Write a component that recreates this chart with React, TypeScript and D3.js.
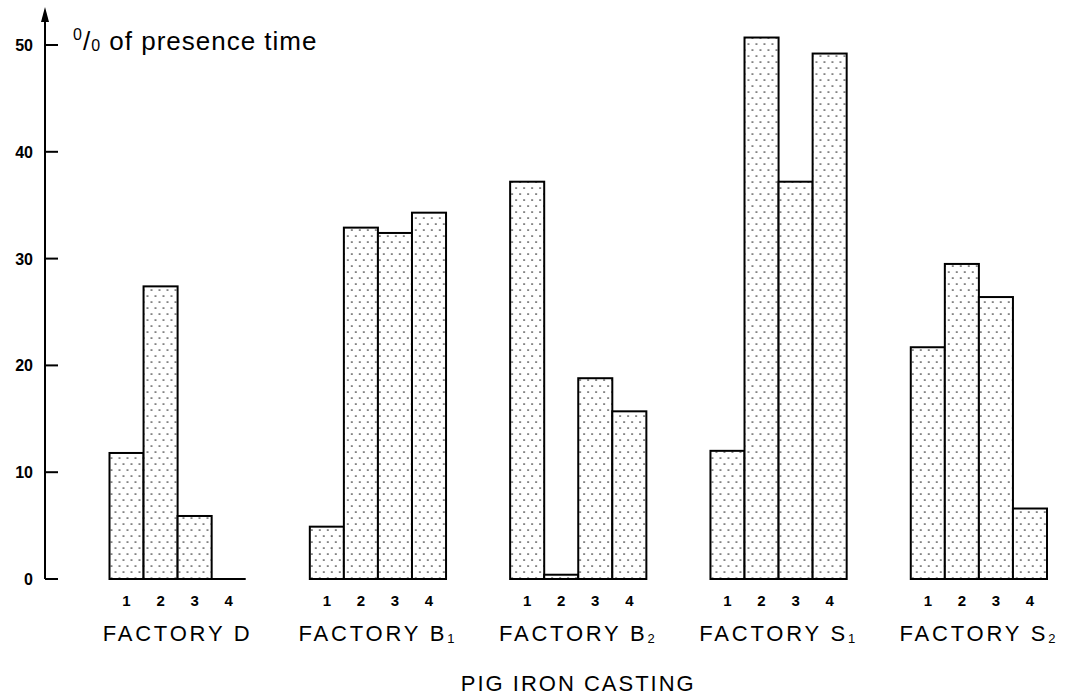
import React from "react";
import * as d3 from "d3";

// values, % of presence time
const factoryNames = ["D", "B", "B", "S", "S"];
const factorySubs = ["", "1", "2", "1", "2"];
const barIds = ["1", "2", "3", "4"];
const factoryD = [11.8, 27.4, 5.9, 0];
const factoryB1 = [4.9, 32.9, 32.4, 34.3];
const factoryB2 = [37.2, 0.4, 18.8, 15.7];
const factoryS1 = [12.0, 50.7, 37.2, 49.2];
const factoryS2 = [21.7, 29.5, 26.4, 6.6];
const yTicks = [0, 10, 20, 30, 40, 50];

const series = [factoryD, factoryB1, factoryB2, factoryS1, factoryS2];
const groupKeys = factoryNames.map((n, i) => n + factorySubs[i]);

const W = 1082;
const H = 699;
const axisX = 45;
const font = "'Liberation Sans', Arial, sans-serif";

const App = () => {
  const y = d3.scaleLinear().domain([0, 50]).range([579, 45]);
  const x0 = d3
    .scaleBand()
    .domain(groupKeys)
    .range([109.5, 1047])
    .paddingInner(0.32)
    .paddingOuter(0);
  const x1 = d3.scaleBand().domain(barIds).range([0, x0.bandwidth()]);

  const base = y(0);

  return (
    <svg
      width={W}
      height={H}
      style={{ position: "absolute", left: 0, top: 0, background: "#fff" }}
    >
      <defs>
        <pattern id="dots" width="8" height="12" patternUnits="userSpaceOnUse">
          <rect width="8" height="12" fill="#fff" />
          <circle cx="2" cy="2" r="0.85" fill="#222" />
          <circle cx="6" cy="8" r="0.85" fill="#222" />
        </pattern>
      </defs>

      {/* y axis with arrow */}
      <line x1={axisX} x2={axisX} y1={base} y2={14} stroke="#000" strokeWidth={2} />
      <path d={`M${axisX},7 L${axisX - 4},22 L${axisX + 4},22 Z`} fill="#000" />
      {yTicks.map((t) => (
        <g key={t}>
          <line x1={axisX} x2={58} y1={y(t)} y2={y(t)} stroke="#000" strokeWidth={2} />
          <text
            x={33}
            y={y(t) + 6}
            textAnchor="end"
            fontFamily={font}
            fontWeight="bold"
            fontSize={16}
          >
            {t}
          </text>
        </g>
      ))}

      <text x={73} y={50} fontFamily={font} fontSize={26} letterSpacing={1}>
        <tspan fontSize={16} dy={-10}>0</tspan>
        <tspan dy={10}>/</tspan>
        <tspan fontSize={16} dy={1}>0</tspan>
        <tspan dy={-1}> of presence time</tspan>
      </text>

      {/* groups */}
      {series.map((vals, gi) => {
        const gx = x0(groupKeys[gi]) as number;
        return (
          <g key={groupKeys[gi]} transform={`translate(${gx},0)`}>
            {vals.map((v, bi) =>
              v > 0 ? (
                <rect
                  key={bi}
                  x={x1(barIds[bi])}
                  y={y(v)}
                  width={x1.bandwidth()}
                  height={base - y(v)}
                  fill="url(#dots)"
                  stroke="#000"
                  strokeWidth={2}
                />
              ) : null
            )}
            <line x1={0} x2={x0.bandwidth()} y1={base} y2={base} stroke="#000" strokeWidth={2} />
            {barIds.map((b) => (
              <text
                key={b}
                x={(x1(b) as number) + x1.bandwidth() / 2}
                y={606}
                textAnchor="middle"
                fontFamily={font}
                fontWeight="bold"
                fontSize={15}
              >
                {b}
              </text>
            ))}
            <text
              x={x0.bandwidth() / 2}
              y={641}
              textAnchor="middle"
              fontFamily={font}
              fontSize={22}
              letterSpacing={2.8}
            >
              {"FACTORY " + factoryNames[gi]}
              {factorySubs[gi] ? (
                <tspan fontSize={13} dy={2}>
                  {factorySubs[gi]}
                </tspan>
              ) : null}
            </text>
          </g>
        );
      })}

      <text
        x={(109.5 + 1047) / 2}
        y={691}
        textAnchor="middle"
        fontFamily={font}
        fontSize={22}
        letterSpacing={2}
      >
        PIG IRON CASTING
      </text>
    </svg>
  );
};

export default App;
